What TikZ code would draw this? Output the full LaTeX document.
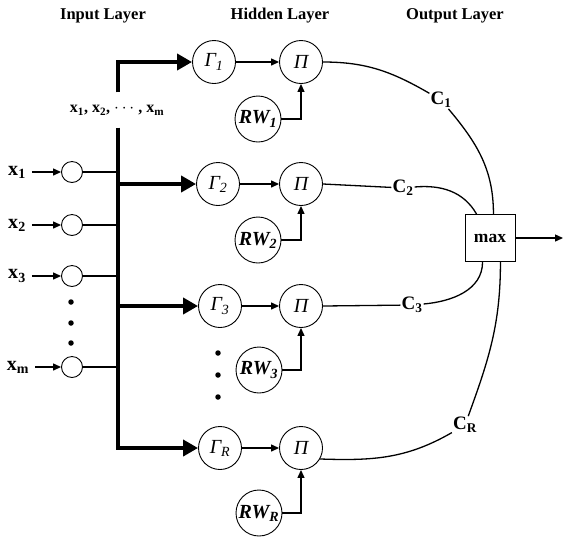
\documentclass[tikz,border=0pt]{standalone}
\usepackage{fontspec}
\setmainfont{Liberation Serif}
\usetikzlibrary{arrows.meta,calc}
\begin{document}
\begin{tikzpicture}[x=1pt,y=-1pt,
  hid/.style={draw, circle, minimum size=43pt, inner sep=0pt, line width=0.9pt, font=\fontsize{20}{20}\selectfont\itshape},
  rw/.style={hid, minimum size=46pt, font=\fontsize{20}{20}\selectfont\bfseries\itshape},
  inp/.style={draw, circle, minimum size=21pt, inner sep=0pt, line width=0.9pt},
  thin/.style={line width=1.3pt},
  tarrow/.style={thin, -{Triangle[length=8pt,width=7pt]}},
  bus/.style={line width=4.2pt, line join=miter},
  barrow/.style={bus, -{Triangle[length=15pt,width=16pt]}},
  lbl/.style={font=\fontsize{16.5}{16.5}\selectfont\bfseries},
  xl/.style={font=\fontsize{20}{20}\selectfont\bfseries, inner sep=1pt},
  clbl/.style={font=\fontsize{19}{19}\selectfont\bfseries, inner sep=1pt},
  dot/.style={circle, fill, inner sep=0pt, minimum size=5.5pt}
]
\useasboundingbox (0,0) rectangle (564,542);

% titles
\node[lbl] (t1) at (103,16) {Input Layer};
\node[lbl] (t2) at (280,16) {Hidden Layer};
\node[lbl] (t3) at (455,16) {Output Layer};

% hidden layer
\node[hid] (g1) at (214,62) {Γ\textsubscript{1}};
\node[hid] (g2) at (218,184) {Γ\textsubscript{2}};
\node[hid] (g3) at (220,306) {Γ\textsubscript{3}};
\node[hid] (gR) at (220,448) {Γ\textsubscript{R}};
\node[hid] (p1) at (301,62) {Π};
\node[hid] (p2) at (301,184) {Π};
\node[hid] (p3) at (301,306) {Π};
\node[hid] (pR) at (301,448) {Π};
\node[rw] (r1) at (258,119) {RW\textsubscript{1}};
\node[rw] (r2) at (258,240) {RW\textsubscript{2}};
\node[rw] (r3) at (259,370) {RW\textsubscript{3}};
\node[rw] (rR) at (259,513) {RW\textsubscript{R}};

\foreach \a/\b in {g1/p1,g2/p2,g3/p3,gR/pR}{\draw[tarrow] (\a) -- (\b);}
\foreach \a/\b in {r1/p1,r2/p2,r3/p3,rR/pR}{\draw[tarrow] (\a.east) -| (\b.south);}

\node[dot] (hd1) at (218,353) {};
\node[dot] (hd2) at (218,375) {};
\node[dot] (hd3) at (218,397) {};

% bus
\coordinate (b1) at (118,62);
\coordinate (bR) at (118,448);
\node[font=\fontsize{16}{16}\selectfont\bfseries, minimum height=35pt, inner sep=0pt] (xs) at (117,110)
  {x\textsubscript{1}, x\textsubscript{2}, $\cdots$ , x\textsubscript{m}};
\draw[barrow] (xs.north -| b1) -- (b1) -- (g1);
\draw[barrow] (xs.south -| b1) -- (bR) -- (gR);
\draw[barrow] (g2.west -| b1) -- (g2);
\draw[barrow] (g3.west -| b1) -- (g3);

% input layer
\node[inp] (i1) at (72,172) {};
\node[inp] (i2) at (72,225) {};
\node[inp] (i3) at (72,276) {};
\node[inp] (im) at (72,367) {};
\node[xl] (l1) at (17,172) {x\textsubscript{1}};
\node[xl] (l2) at (17,225) {x\textsubscript{2}};
\node[xl] (l3) at (17,276) {x\textsubscript{3}};
\node[xl] (lm) at (18,367) {x\textsubscript{m}};
\foreach \l/\i in {l1/i1,l2/i2,l3/i3,lm/im}{
  \draw[tarrow] ([xshift=5pt]\l.east |- \i) -- (\i.west);
  \draw[thin] (\i.east) -- (\i.east -| b1);
}
\node[dot] (id1) at (71,302) {};
\node[dot] (id2) at (71,323) {};
\node[dot] (id3) at (71,343) {};

% output
\node[draw, line width=0.9pt, minimum width=50pt, minimum height=47pt, font=\fontsize{17.5}{17.5}\selectfont\bfseries] (mx) at (490,238) {max};
\coordinate (out) at (563,238);
\draw[tarrow] (mx) -- (out);

\node[clbl] (c1) at (441,100) {C\textsubscript{1}};
\node[clbl] (c2) at (403,188) {C\textsubscript{2}};
\node[clbl] (c3) at (412,305) {C\textsubscript{3}};
\node[clbl] (cR) at (465,425) {C\textsubscript{R}};

\draw[thin] (p1.east) to[out=0,in=150] (c1);
\draw[thin] (c1) to[out=-50,in=90] ([xshift=-22pt]mx.north east);
\draw[thin] (p2.east) -- (c2);
\draw[thin] (c2) to[out=5,in=120] ([xshift=12pt]mx.north west);
\draw[thin] (p3.east) -- (c3);
\draw[thin] (c3) to[out=5,in=-90] ([xshift=18pt]mx.south west);
\draw[thin] (pR.-30) to[out=-2,in=-150] (cR);
\draw[thin] (cR) to[out=70,in=-90] ([xshift=-15pt]mx.south east);
\end{tikzpicture}
\end{document}
